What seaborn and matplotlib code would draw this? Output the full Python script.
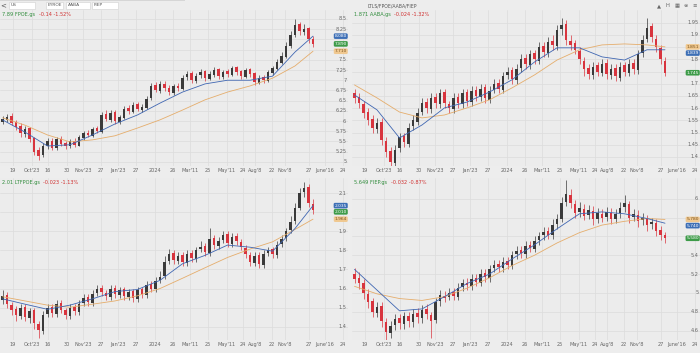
import numpy as np
import matplotlib
matplotlib.use("Agg")
import matplotlib.pyplot as plt
import matplotlib.transforms as mtransforms
from matplotlib.patches import Rectangle
import seaborn as sns

# ---------------- DATA ----------------
x_labels = ["19", "Oct'23", "16", "30", "Nov'23", "27", "Jan'23", "27", "2024", "26",
            "Mar'11", "25", "May'11", "24", "Aug'8", "22", "Nov'8", "27", "June'16", "24"]

toolbar_fields = ["US", "EYROE", "AABA", "FIEP"]
layout_title = "LTLS/FPOE/AABA/FIEP"

names = ["7.89 FPOE.gs", "1.871 AABA.gs", "2.01 LTFPOE.gs", "5.649 FIEP.gs"]
changes = ["-0.14 -1.52%", "-0.024 -1.32%", "-0.023 -1.13%", "-0.032 -0.87%"]

ma_idx = [0, 5, 10, 15, 20, 25, 30, 35, 40, 45, 50, 55, 60, 65, 69]

# Panel 1 (FPOE)
p1_open = [5.98,6.03,6.12,5.97,5.88,5.68,5.82,5.58,5.30,5.18,5.38,5.52,5.33,5.57,5.47,5.38,5.52,5.40,5.58,5.72,
           5.63,5.82,5.73,6.18,6.03,6.22,5.98,6.08,6.32,6.23,6.42,6.28,6.33,6.57,6.88,6.73,6.92,6.82,6.68,6.87,
           6.78,7.07,7.17,6.98,7.12,7.22,7.03,7.13,7.27,7.08,7.22,7.13,7.32,7.22,7.08,7.27,7.17,6.93,7.07,6.98,
           7.18,7.28,7.43,7.58,7.83,8.12,8.37,8.18,8.27,8.02]
p1_high = [6.12,6.18,6.20,6.02,5.95,5.88,5.86,5.62,5.36,5.46,5.58,5.58,5.62,5.64,5.52,5.56,5.58,5.66,5.76,5.78,
           5.86,5.88,6.22,6.26,6.28,6.27,6.16,6.36,6.40,6.46,6.47,6.42,6.62,6.94,6.95,6.98,6.97,6.88,6.92,6.93,
           7.12,7.22,7.22,7.17,7.27,7.26,7.22,7.32,7.30,7.26,7.28,7.36,7.36,7.26,7.31,7.30,7.20,7.12,7.12,7.26,
           7.36,7.52,7.68,7.94,8.20,8.50,8.42,8.38,8.30,8.08]
p1_low = [5.92,5.98,5.90,5.78,5.62,5.62,5.48,5.18,5.05,5.12,5.32,5.28,5.30,5.40,5.32,5.34,5.36,5.38,5.54,5.60,
          5.60,5.70,5.70,6.00,5.98,5.94,5.93,6.05,6.18,6.20,6.24,6.22,6.30,6.52,6.70,6.68,6.74,6.64,6.64,6.73,
          6.75,7.00,6.93,6.94,7.06,6.98,7.00,7.09,7.04,7.03,7.09,7.10,7.14,7.03,7.05,7.08,6.88,6.90,6.94,6.95,
          7.14,7.24,7.40,7.55,7.78,8.06,8.12,8.10,7.92,7.82]
p1_close = [6.05,6.10,5.95,5.85,5.70,5.80,5.55,5.25,5.15,5.40,5.50,5.35,5.55,5.45,5.40,5.50,5.42,5.60,5.70,5.65,
            5.80,5.75,6.15,6.05,6.20,6.00,6.10,6.30,6.25,6.40,6.30,6.35,6.55,6.85,6.75,6.90,6.80,6.70,6.85,6.80,
            7.05,7.15,7.00,7.10,7.20,7.05,7.15,7.25,7.10,7.20,7.15,7.30,7.20,7.10,7.25,7.15,6.95,7.05,7.00,7.20,
            7.30,7.45,7.60,7.85,8.10,8.35,8.20,8.25,8.00,7.89]
p1_ma_fast = [6.03,5.73,5.39,5.42,5.66,5.93,6.15,6.44,6.71,6.91,7.00,7.00,7.10,7.69,8.08]
p1_ma_slow = [6.08,5.90,5.66,5.49,5.54,5.64,5.83,6.03,6.27,6.52,6.71,6.86,7.05,7.35,7.71]
p1_yticks = [5, 5.25, 5.5, 5.75, 6, 6.25, 6.5, 6.75, 7, 7.25, 7.5, 7.75, 8, 8.25, 8.5]

# Panel 2 (AABA)
p2_open = [1.66,1.645,1.615,1.585,1.555,1.515,1.545,1.465,1.425,1.375,1.435,1.485,1.455,1.525,1.545,1.585,1.625,1.595,1.645,1.615,
           1.665,1.615,1.595,1.645,1.615,1.665,1.625,1.675,1.645,1.685,1.635,1.675,1.705,1.675,1.735,1.755,1.715,1.765,1.805,1.775,
           1.825,1.795,1.855,1.825,1.875,1.855,1.925,1.945,1.875,1.865,1.835,1.795,1.765,1.735,1.775,1.745,1.785,1.735,1.765,1.725,
           1.775,1.745,1.785,1.755,1.825,1.885,1.935,1.885,1.845,1.795]
p2_high = [1.68,1.66,1.63,1.60,1.57,1.56,1.56,1.48,1.44,1.45,1.50,1.50,1.54,1.57,1.60,1.64,1.64,1.66,1.66,1.68,
           1.68,1.63,1.66,1.66,1.68,1.68,1.69,1.69,1.70,1.70,1.69,1.72,1.72,1.75,1.77,1.77,1.78,1.82,1.82,1.84,
           1.84,1.87,1.87,1.89,1.90,1.94,1.97,1.96,1.90,1.88,1.85,1.81,1.78,1.79,1.79,1.80,1.80,1.78,1.78,1.79,
           1.79,1.80,1.80,1.84,1.90,1.97,1.95,1.90,1.86,1.81]
p2_low = [1.62,1.60,1.56,1.53,1.50,1.50,1.45,1.40,1.36,1.36,1.42,1.44,1.44,1.51,1.53,1.57,1.58,1.58,1.60,1.60,
          1.60,1.58,1.58,1.60,1.60,1.61,1.61,1.63,1.63,1.62,1.62,1.66,1.66,1.66,1.72,1.70,1.70,1.75,1.76,1.76,
          1.78,1.78,1.81,1.81,1.84,1.84,1.90,1.86,1.84,1.82,1.78,1.73,1.72,1.72,1.73,1.73,1.72,1.72,1.71,1.71,
          1.73,1.73,1.74,1.74,1.81,1.87,1.87,1.83,1.78,1.73]
p2_close = [1.64,1.62,1.58,1.55,1.52,1.54,1.47,1.42,1.38,1.43,1.48,1.46,1.52,1.55,1.58,1.62,1.60,1.64,1.62,1.66,
            1.62,1.60,1.64,1.62,1.66,1.63,1.67,1.65,1.68,1.64,1.67,1.70,1.68,1.73,1.75,1.72,1.76,1.80,1.78,1.82,
            1.80,1.85,1.83,1.87,1.86,1.92,1.94,1.88,1.86,1.84,1.80,1.76,1.74,1.77,1.75,1.78,1.74,1.76,1.73,1.77,
            1.75,1.78,1.76,1.82,1.88,1.93,1.89,1.85,1.80,1.745]
p2_ma_fast = [1.654,1.593,1.478,1.531,1.601,1.625,1.666,1.716,1.789,1.847,1.847,1.810,1.797,1.839,1.839]
p2_ma_slow = [1.695,1.642,1.584,1.560,1.572,1.601,1.634,1.683,1.736,1.797,1.839,1.859,1.863,1.859,1.851]
p2_yticks = [1.4, 1.45, 1.5, 1.55, 1.6, 1.65, 1.7, 1.75, 1.8, 1.85, 1.9, 1.95]

# Panel 3 (LTFPOE)
p3_open = [1.54,1.565,1.515,1.495,1.455,1.505,1.445,1.485,1.415,1.375,1.465,1.505,1.465,1.525,1.485,1.455,1.505,1.475,1.525,1.555,
           1.525,1.575,1.605,1.575,1.555,1.605,1.565,1.595,1.555,1.585,1.545,1.595,1.565,1.625,1.595,1.645,1.665,1.745,1.785,1.745,
           1.775,1.735,1.785,1.755,1.805,1.825,1.785,1.865,1.825,1.855,1.885,1.835,1.875,1.845,1.815,1.775,1.735,1.775,1.725,1.785,
           1.805,1.775,1.835,1.865,1.905,1.955,2.025,2.105,2.135,2.045]
p3_high = [1.59,1.58,1.53,1.51,1.52,1.52,1.50,1.50,1.43,1.48,1.52,1.52,1.54,1.54,1.50,1.52,1.52,1.54,1.57,1.57,
           1.59,1.62,1.62,1.59,1.62,1.62,1.61,1.61,1.60,1.60,1.61,1.61,1.64,1.64,1.66,1.69,1.77,1.81,1.80,1.79,
           1.79,1.80,1.80,1.82,1.85,1.84,1.92,1.88,1.87,1.90,1.90,1.89,1.89,1.86,1.83,1.79,1.79,1.79,1.80,1.82,
           1.82,1.85,1.88,1.92,1.98,2.05,2.13,2.16,2.15,2.07]
p3_low = [1.52,1.50,1.46,1.43,1.44,1.43,1.42,1.39,1.34,1.36,1.45,1.45,1.45,1.47,1.44,1.44,1.46,1.46,1.51,1.51,
          1.51,1.56,1.56,1.54,1.54,1.55,1.55,1.54,1.54,1.53,1.53,1.55,1.55,1.58,1.58,1.63,1.65,1.73,1.73,1.73,
          1.72,1.72,1.74,1.74,1.79,1.77,1.77,1.81,1.81,1.84,1.82,1.82,1.83,1.80,1.76,1.72,1.72,1.71,1.71,1.77,
          1.76,1.76,1.82,1.85,1.89,1.94,2.01,2.08,2.03,1.99]
p3_close = [1.56,1.52,1.49,1.46,1.50,1.45,1.48,1.42,1.38,1.46,1.50,1.47,1.52,1.49,1.46,1.50,1.48,1.52,1.55,1.53,
            1.57,1.60,1.58,1.56,1.60,1.57,1.59,1.56,1.58,1.55,1.59,1.57,1.62,1.60,1.64,1.66,1.74,1.78,1.75,1.77,
            1.74,1.78,1.76,1.80,1.82,1.79,1.86,1.83,1.85,1.88,1.84,1.87,1.85,1.82,1.78,1.74,1.77,1.73,1.78,1.80,
            1.78,1.83,1.86,1.90,1.95,2.02,2.10,2.13,2.05,2.01]
p3_ma_fast = [1.546,1.518,1.491,1.513,1.546,1.584,1.595,1.643,1.730,1.774,1.828,1.817,1.796,1.915,2.035]
p3_ma_slow = [1.557,1.535,1.513,1.502,1.518,1.535,1.562,1.600,1.654,1.709,1.763,1.807,1.845,1.910,1.964]
p3_yticks = [1.4, 1.5, 1.6, 1.7, 1.8, 1.9, 2.0, 2.1]

# Panel 4 (FIEP)
p4_open = [5.20,5.16,5.11,4.99,4.91,4.79,4.86,4.69,4.57,4.66,4.73,4.67,4.76,4.69,4.79,4.73,4.83,4.77,4.71,4.91,
           4.97,4.96,5.01,4.96,5.06,5.11,5.07,5.16,5.11,5.21,5.16,5.26,5.31,5.26,5.34,5.29,5.41,5.46,5.41,5.51,
           5.47,5.56,5.61,5.66,5.61,5.73,5.79,5.96,6.04,5.94,5.86,5.89,5.83,5.87,5.79,5.84,5.81,5.85,5.79,5.85,
           5.91,5.94,5.81,5.83,5.77,5.79,5.73,5.74,5.67,5.61]
p4_high = [5.26,5.22,5.15,5.04,4.95,4.90,4.90,4.73,4.70,4.78,4.78,4.80,4.80,4.83,4.84,4.87,4.88,4.80,4.95,5.03,
           5.02,5.05,5.05,5.10,5.15,5.16,5.20,5.20,5.25,5.25,5.30,5.35,5.35,5.38,5.38,5.45,5.50,5.50,5.55,5.55,
           5.60,5.65,5.70,5.70,5.78,5.84,6.02,6.20,6.10,5.99,5.96,5.94,5.93,5.92,5.90,5.89,5.91,5.90,5.89,5.96,
           6.04,5.98,5.89,5.88,5.85,5.83,5.80,5.78,5.71,5.65]
p4_low = [5.10,5.04,4.94,4.84,4.74,4.74,4.64,4.50,4.52,4.61,4.62,4.62,4.64,4.64,4.68,4.68,4.72,4.52,4.68,4.86,
          4.90,4.92,4.92,4.92,5.02,5.03,5.03,5.07,5.07,5.12,5.12,5.22,5.22,5.22,5.25,5.25,5.36,5.37,5.37,5.43,
          5.43,5.51,5.56,5.57,5.57,5.68,5.75,5.92,5.90,5.80,5.81,5.77,5.78,5.72,5.74,5.75,5.76,5.73,5.74,5.80,
          5.86,5.74,5.76,5.70,5.72,5.66,5.68,5.60,5.56,5.53]
p4_close = [5.15,5.10,5.00,4.90,4.80,4.85,4.70,4.58,4.65,4.72,4.68,4.75,4.70,4.78,4.74,4.82,4.78,4.70,4.90,4.98,
            4.95,5.00,4.97,5.05,5.10,5.08,5.15,5.12,5.20,5.17,5.25,5.30,5.27,5.33,5.30,5.40,5.45,5.42,5.50,5.48,
            5.55,5.60,5.65,5.62,5.72,5.78,5.95,6.05,5.95,5.85,5.90,5.82,5.88,5.78,5.85,5.80,5.86,5.78,5.84,5.90,
            5.95,5.80,5.84,5.76,5.80,5.72,5.75,5.66,5.62,5.58]
p4_ma_fast = [5.25,5.03,4.81,4.83,4.96,5.10,5.20,5.36,5.51,5.68,5.84,5.86,5.84,5.79,5.74]
p4_ma_slow = [5.07,4.99,4.94,4.92,4.96,5.05,5.16,5.29,5.40,5.53,5.64,5.72,5.76,5.79,5.78]
p4_yticks = [4.6, 4.8, 5.0, 5.2, 5.4, 5.6, 5.8, 6.0]

# ---------------- STYLE / LAYOUT ----------------
W, H = 700, 353
BG = "#ededed"
AX_BG = "#ececec"
GRID = "#dcdcdc"
UP = "#3a3a3a"
DOWN = "#d8343e"
FAST = "#3f66b2"
SLOW = "#e5ad6c"
TAG_BLUE = "#3d6fb6"
TAG_GREEN = "#3d9b48"
TAG_ORANGE = "#f0c890"
TXT = "#666666"
PX_PER_CANDLE = 4.5
OFFSET = 2.5
XTICK_PX = [13, 32, 48, 67, 83, 101, 118, 136, 155, 173, 190, 208, 227, 243, 255, 272, 285, 309, 325, 343]
TAG_H_PX = 6.2      # minimum vertical spacing of price tags (px)
LABEL_CLEAR_PX = 5  # hide axis labels this close to a tag (px)

sns.set_theme(style="whitegrid")
plt.rcParams['font.family'] = ['DejaVu Sans']

fig = plt.figure(figsize=(W / 100, H / 100), dpi=100, facecolor=BG)


def add_ax(l, t, r, b):
    return fig.add_axes([l / W, 1 - b / H, (r - l) / W, (b - t) / H])


panels = [
    dict(rect=(0, 10, 348, 166), o=p1_open, h=p1_high, l=p1_low, c=p1_close,
         fast=p1_ma_fast, slow=p1_ma_slow, yt=p1_yticks, ylim=(4.90, 8.72), name=names[0], chg=changes[0]),
    dict(rect=(352, 10, 700, 166), o=p2_open, h=p2_high, l=p2_low, c=p2_close,
         fast=p2_ma_fast, slow=p2_ma_slow, yt=p2_yticks, ylim=(1.363, 2.002), name=names[1], chg=changes[1]),
    dict(rect=(0, 178, 348, 340), o=p3_open, h=p3_high, l=p3_low, c=p3_close,
         fast=p3_ma_fast, slow=p3_ma_slow, yt=p3_yticks, ylim=(1.33, 2.18), name=names[2], chg=changes[2]),
    dict(rect=(352, 178, 700, 340), o=p4_open, h=p4_high, l=p4_low, c=p4_close,
         fast=p4_ma_fast, slow=p4_ma_slow, yt=p4_yticks, ylim=(4.50, 6.22), name=names[3], chg=changes[3]),
]

xlim = (-OFFSET / PX_PER_CANDLE, (348 - OFFSET) / PX_PER_CANDLE)
xtick_pos = [(p - OFFSET) / PX_PER_CANDLE for p in XTICK_PX]

for p in panels:
    l_, t_, r_, b_ = p["rect"]
    ax = add_ax(l_, t_, r_, b_)
    ax.set_facecolor(AX_BG)
    for s in ax.spines.values():
        s.set_visible(False)
    o = np.array(p["o"]); h = np.array(p["h"]); lo = np.array(p["l"]); c = np.array(p["c"])
    x = np.arange(len(c))
    cols = np.where(c >= o, UP, DOWN)
    ax.vlines(x, lo, h, colors=cols, linewidth=0.5, zorder=3)
    body = np.maximum(np.abs(c - o), (p["ylim"][1] - p["ylim"][0]) * 0.004)
    ax.bar(x, body, bottom=np.minimum(o, c), width=0.5, color=cols, linewidth=0, zorder=4)
    sns.lineplot(x=ma_idx, y=p["slow"], ax=ax, color=SLOW, linewidth=0.6, zorder=5)
    sns.lineplot(x=ma_idx, y=p["fast"], ax=ax, color=FAST, linewidth=0.6, zorder=6)
    ax.set_xlabel(""); ax.set_ylabel("")
    ax.set_xlim(*xlim)
    ax.set_ylim(*p["ylim"])
    ax.set_xticks(xtick_pos, x_labels)
    ax.set_yticks(p["yt"], [""] * len(p["yt"]))
    ax.tick_params(axis="x", length=0, labelsize=3.6, pad=1.5, colors=TXT)
    ax.tick_params(axis="y", length=0)
    ax.grid(True, color=GRID, linewidth=0.5)
    trans = mtransforms.blended_transform_factory(ax.transAxes, ax.transData)
    unit_per_px = (p["ylim"][1] - p["ylim"][0]) / (b_ - t_)

    # price tags, spread apart so they do not collide
    tags = [(p["slow"][-1], TAG_ORANGE, "#7a5520"), (p["fast"][-1], TAG_BLUE, "white"),
            (p["c"][-1], TAG_GREEN, "white")]
    order = sorted(range(len(tags)), key=lambda k: -tags[k][0])
    pos = {}
    prev = None
    for k in order:
        y = tags[k][0]
        if prev is not None and prev - y < TAG_H_PX * unit_per_px:
            y = prev - TAG_H_PX * unit_per_px
        pos[k] = y
        prev = y
    for k, (val, fc, tc) in enumerate(tags):
        ax.text(0.997, pos[k], f"{val:.3f}", transform=trans, ha="right", va="center",
                fontsize=3.2, color=tc, zorder=9,
                bbox=dict(boxstyle="round,pad=0.18,rounding_size=0.3", fc=fc, ec="none"))

    for v in p["yt"]:
        if any(abs(v - pos[k]) < LABEL_CLEAR_PX * unit_per_px for k in pos):
            continue
        ax.text(0.995, v, f"{v:g}", transform=trans, ha="right", va="center",
                fontsize=3.6, color=TXT, zorder=7)

    # title
    t1 = ax.text(0.006, 0.985, p["name"], transform=ax.transAxes, ha="left", va="top",
                 fontsize=3.6, color="#2e8b3a", zorder=9)
    ax.annotate(p["chg"], xy=(1, 0.5), xycoords=t1, xytext=(2.5, 0), textcoords="offset points",
                ha="left", va="center", fontsize=3.6, color="#d03030", zorder=9)

# ---------------- toolbar ----------------
tb = fig.add_axes([0, 0, 1, 1], facecolor="none")
tb.set_xlim(0, W); tb.set_ylim(H, 0); tb.axis("off")
tb.add_patch(Rectangle((0, 0), 185, 1.2, fc="#d6d6d6", ec="none"))
tb.text(3, 5.2, "<", fontsize=5, color="#555555", ha="center", va="center")
boxes = [(9, 26), (46, 17), (66, 24), (92, 26)]
for (bx, bw), lab in zip(boxes, toolbar_fields):
    tb.add_patch(Rectangle((bx, 1.5), bw, 7.5, fc="white", ec="#cfcfcf", lw=0.4))
    tb.text(bx + 2, 5.4, lab, fontsize=3.2, color="#555555", ha="left", va="center")
tb.text(367, 5.6, layout_title, fontsize=3.3, color="#555555", ha="left", va="center")
for gx, g in [(659, "▲"), (667, "H"), (677, "▦"), (686, "⊜"), (695, "≡")]:
    tb.text(gx, 5.6, g, fontsize=3.8, color="#666666", ha="center", va="center")

fig.savefig("out.png", dpi=100, facecolor=BG)
